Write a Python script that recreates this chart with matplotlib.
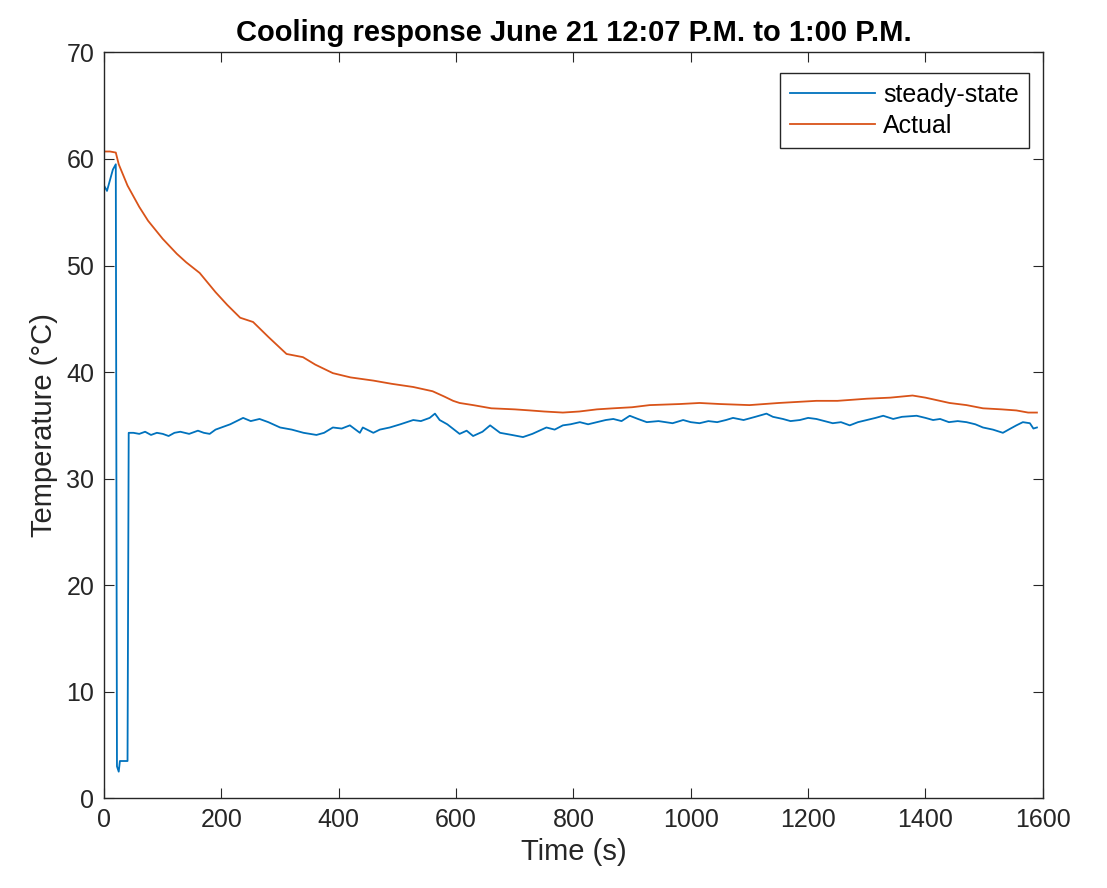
import numpy as np
import matplotlib.pyplot as plt

# Time (s) and temperature (°C)
steady_time = [0, 5, 10, 15, 20, 22, 25, 27, 40, 42,
               50, 60, 70, 80, 90, 100, 110, 120, 130, 145, 160, 170, 180, 190, 200,
               215, 237, 250, 265, 280, 300, 320, 340, 362, 375, 390, 405, 419, 436,
               441, 459, 470, 487, 505, 527, 540, 555, 564, 572, 585, 606, 618, 629,
               645, 658, 675, 695, 714, 730, 754, 768, 782, 795, 811, 825, 840, 855,
               868, 882, 896, 910, 925, 945, 969, 987, 1000, 1015, 1030, 1045, 1060,
               1072, 1090, 1110, 1129, 1140, 1157, 1170, 1186, 1200, 1214, 1228, 1242,
               1256, 1271, 1285, 1300, 1315, 1328, 1345, 1360, 1385, 1400, 1413, 1425,
               1440, 1455, 1470, 1485, 1498, 1515, 1532, 1545, 1555, 1566, 1578, 1584,
               1590]
steady_temp = [57.5, 57.0, 58.0, 59.0, 59.5, 3.0, 2.5, 3.5, 3.5, 34.3,
               34.3, 34.2, 34.4, 34.1, 34.3, 34.2, 34.0, 34.3, 34.4, 34.2, 34.5, 34.3, 34.2,
               34.6, 34.8, 35.1, 35.7, 35.4, 35.6, 35.3, 34.8, 34.6, 34.3, 34.1, 34.3, 34.8,
               34.7, 35.0, 34.3, 34.8, 34.3, 34.6, 34.8, 35.1, 35.5, 35.4, 35.7, 36.1, 35.5,
               35.1, 34.2, 34.5, 34.0, 34.4, 35.0, 34.3, 34.1, 33.9, 34.2, 34.8, 34.6, 35.0,
               35.1, 35.3, 35.1, 35.3, 35.5, 35.6, 35.4, 35.9, 35.6, 35.3, 35.4, 35.2, 35.5,
               35.3, 35.2, 35.4, 35.3, 35.5, 35.7, 35.5, 35.8, 36.1, 35.8, 35.6, 35.4, 35.5,
               35.7, 35.6, 35.4, 35.2, 35.3, 35.0, 35.3, 35.5, 35.7, 35.9, 35.6, 35.8, 35.9,
               35.7, 35.5, 35.6, 35.3, 35.4, 35.3, 35.1, 34.8, 34.6, 34.3, 34.7, 35.0, 35.3,
               35.2, 34.7, 34.8]

actual_time = [0, 10, 20, 25, 40, 60, 75, 100, 124, 140, 163, 190, 210, 232, 254, 280,
               311, 339, 360, 390, 420, 459, 490, 527, 560, 580, 595, 606, 629, 660,
               700, 726, 750, 782, 810, 840, 868, 900, 930, 981, 1015, 1050, 1100,
               1150, 1214, 1250, 1300, 1340, 1378, 1400, 1441, 1470, 1498, 1530, 1555,
               1575, 1590]
actual_temp = [60.7, 60.7, 60.6, 59.5, 57.5, 55.5, 54.2, 52.5, 51.1, 50.3, 49.3, 47.5,
               46.3, 45.1, 44.7, 43.3, 41.7, 41.4, 40.7, 39.9, 39.5, 39.2, 38.9, 38.6,
               38.2, 37.7, 37.3, 37.1, 36.9, 36.6, 36.5, 36.4, 36.3, 36.2, 36.3, 36.5,
               36.6, 36.7, 36.9, 37.0, 37.1, 37.0, 36.9, 37.1, 37.3, 37.3, 37.5, 37.6,
               37.8, 37.6, 37.1, 36.9, 36.6, 36.5, 36.4, 36.2, 36.2]

plt.rcParams['font.family'] = ['Liberation Sans', 'DejaVu Sans']

fig = plt.figure(figsize=(11.07, 8.88), dpi=100)
ax = fig.add_axes([0.094, 0.101, 0.848, 0.840])

ax.plot(steady_time, steady_temp, color='#0072BD', lw=1.3, label='steady-state')
ax.plot(actual_time, actual_temp, color='#D95319', lw=1.3, label='Actual')

ax.set_xlim(0, 1600)
ax.set_ylim(0, 70)
ax.set_xticks(np.arange(0, 1601, 200))
ax.set_yticks(np.arange(0, 71, 10))
ax.tick_params(direction='in', top=True, right=True, length=7, labelsize=18,
               colors='#262626', pad=7)
for s in ax.spines.values():
    s.set_color('#262626')
    s.set_linewidth(1.0)

ax.set_title('Cooling response June 21 12:07 P.M. to 1:00 P.M.', fontsize=21,
             fontweight='bold', pad=8)
ax.set_xlabel('Time (s)', fontsize=21, color='#262626', labelpad=4)
ax.set_ylabel('Temperature (°C)', fontsize=21, color='#262626', labelpad=6)

leg = ax.legend(loc='upper right', bbox_to_anchor=(0.985, 0.973), borderaxespad=0,
                fontsize=18, fancybox=False, framealpha=1, edgecolor='#262626',
                handlelength=3.4, handletextpad=0.3, labelspacing=0.3, borderpad=0.4)
leg.get_frame().set_linewidth(1.0)

fig.savefig('out.png', dpi=100)
